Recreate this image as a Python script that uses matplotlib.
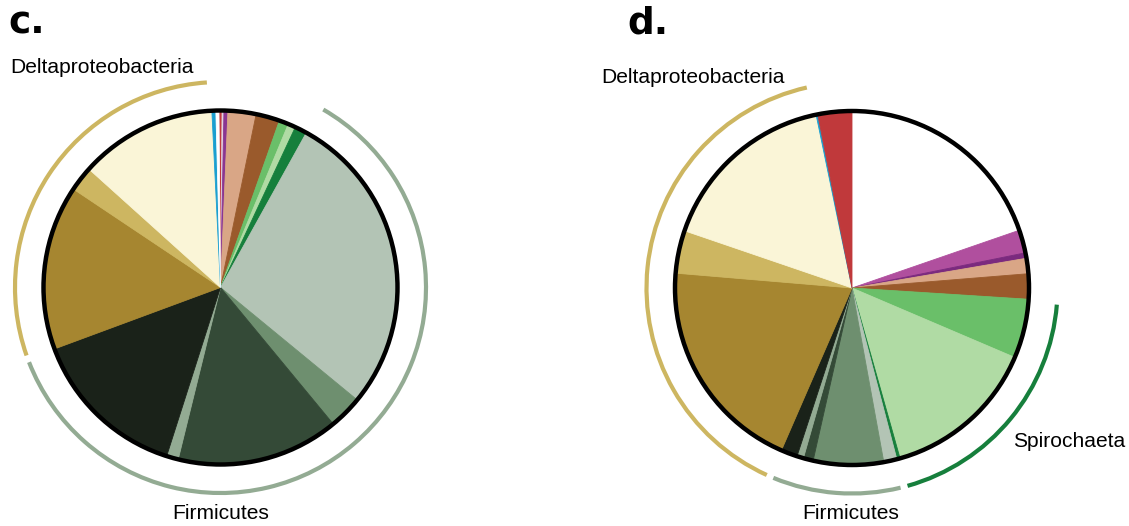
import numpy as np
import matplotlib.pyplot as plt
from matplotlib.patches import Circle, Arc

# taxon colours (shared between both panels)
RED = '#c0393b'
LGREY = '#e2d3e0'
PURPLE = '#8a3592'
MAGENTA = '#b04f9e'
DPURPLE = '#7b2a7e'
SALMON = '#d9a686'
BROWN = '#9a5a2c'
GREEN = '#6abf69'
LGREEN = '#b0dba4'
DGREEN = '#167f3c'
PSAGE = '#b3c4b5'
MSAGE = '#6e8f6f'
DSLATE = '#344a37'
LSAGE = '#93ab93'
VDARK = '#1a2219'
OCHRE = '#a68630'
TAN = '#cdb661'
CREAM = '#faf5d7'
BLUE = '#1a9fd0'
WHITE = '#ffffff'

# panel c: relative abundance (%), clockwise from the top
c_colors = [RED, LGREY, PURPLE, SALMON, BROWN, GREEN, LGREEN, DGREEN,
            PSAGE, MSAGE, DSLATE, LSAGE, VDARK, OCHRE, TAN, CREAM, BLUE, WHITE]
c_values = [0.28, 0.17, 0.36, 2.56, 2.17, 0.86, 0.69, 1.11,
            27.9, 3.06, 14.83, 1.08, 14.44, 15.03, 2.28, 12.56, 0.36, 0.28]
# groups: (name, first index, last index, arc colour)
c_groups = [('Firmicutes', 8, 12, LSAGE),
            ('Deltaproteobacteria', 13, 15, TAN)]

# panel d
d_colors = [WHITE, MAGENTA, DPURPLE, SALMON, BROWN, GREEN, LGREEN, DGREEN,
            PSAGE, MSAGE, DSLATE, LSAGE, VDARK, OCHRE, TAN, CREAM, BLUE, RED]
d_values = [19.7, 2.1, 0.5, 1.4, 2.3, 5.4, 14.2, 0.3,
            1.2, 6.4, 0.9, 0.6, 1.5, 19.8, 3.9, 16.5, 0.15, 3.1]
d_groups = [('Spirochaeta', 5, 7, DGREEN),
            ('Firmicutes', 8, 12, LSAGE),
            ('Deltaproteobacteria', 13, 15, TAN)]

W, H = 1129, 526
R = 177
R_ARC = 205.5


def draw_panel(ax, values, colors, groups, cx, cy, start):
    wedges, _ = ax.pie(values, colors=colors, startangle=start, counterclock=False,
                       center=(cx, cy), radius=R, frame=True,
                       wedgeprops=dict(linewidth=0.6))
    for w in wedges:
        w.set_edgecolor(w.get_facecolor())
    ax.add_patch(Circle((cx, cy), R, fill=False, ec='black', lw=3.2, zorder=5))

    # group arcs outside the pie, angles clockwise from 12 o'clock
    total = float(np.sum(values))
    edges = np.concatenate([[0], np.cumsum(values)]) / total * 360 + (90 - start)
    pad = 1.0
    for name, i0, i1, col in groups:
        a1 = edges[i0] + pad
        a2 = edges[i1 + 1] - pad
        ax.add_patch(Arc((cx, cy), 2 * R_ARC, 2 * R_ARC, theta1=90 - a2, theta2=90 - a1,
                         color=col, lw=3.0, zorder=4))


fig = plt.figure(figsize=(W / 100, H / 100), dpi=100)
ax = fig.add_axes([0, 0, 1, 1])

draw_panel(ax, c_values, c_colors, c_groups, 220.5, H - 287.5, 90.5)
draw_panel(ax, d_values, d_colors, d_groups, 852, H - 288, 90)

ax.set_xlim(0, W)
ax.set_ylim(0, H)
ax.set_aspect('equal')
ax.set_axis_off()

lab = dict(family=['Liberation Sans', 'DejaVu Sans'], fontsize=15.1, va='baseline')
ax.text(10, H - 72.7, 'Deltaproteobacteria', ha='left', **lab)
ax.text(221, H - 519, 'Firmicutes', ha='center', **lab)
ax.text(601, H - 83.3, 'Deltaproteobacteria', ha='left', **lab)
ax.text(850.3, H - 519, 'Firmicutes', ha='center', **lab)
ax.text(1013, H - 446.7, 'Spirochaeta', ha='left', **lab)

letter = dict(family='DejaVu Sans', fontweight='bold', fontsize=27, va='baseline', ha='left')
ax.text(8, H - 34, 'c.', **letter)
ax.text(627, H - 34, 'd.', **letter)

fig.savefig('out.png', dpi=100)
